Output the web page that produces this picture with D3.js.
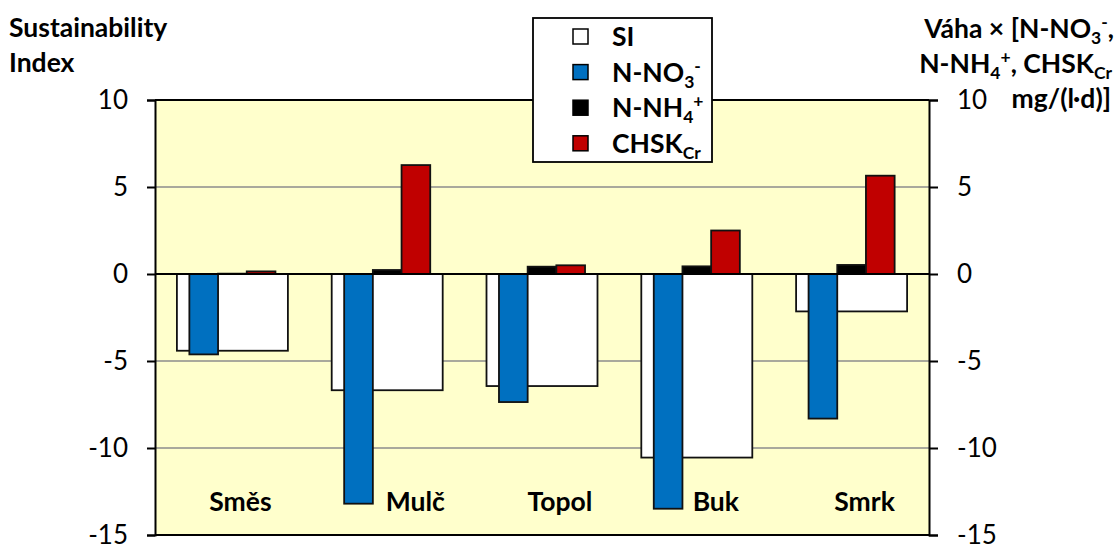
<!DOCTYPE html>
<html><head><meta charset="utf-8">
<script src="https://cdn.jsdelivr.net/npm/d3@7"></script>
<style>
body{margin:0;background:#fff}
svg{display:block}
text{font-family:Lato,"Open Sans",sans-serif;fill:#000}
</style>
</head><body>
<svg id="c" width="1115" height="545"></svg>
<script>
// ---- data ----
const categories = ["Směs","Mulč","Topol","Buk","Smrk"];
const siValues   = [-4.41,-6.68,-6.44,-10.55,-2.15];
const no3Values  = [-4.62,-13.2,-7.36,-13.49,-8.31];
const nh4Values  = [0.02,0.23,0.42,0.44,0.52];
const chskValues = [0.15,6.26,0.5,2.5,5.65];
const tickValues = [10,5,0,-5,-10,-15];
const seriesKeys = ["SI","NO3","NH4","CHSK"];

// ---- layout ----
const L = 155, R = 929, T = 100, B = 535;
const labelNudge = [8,28,18,19,13];
const colors = {SI:"#ffffff", NO3:"#0070c0", NH4:"#000000", CHSK:"#c00000"};
const FS = 26.5;
const TFS = 26;

const svg = d3.select("#c");
const x = d3.scaleBand().domain(categories).range([L,R]).padding(0);
const y = d3.scaleLinear().domain([-15,10]).range([B,T]);
const y2 = d3.scaleLinear().domain([-15,10]).range([B,T]);

// plot background
svg.append("rect").attr("x",L).attr("y",T).attr("width",R-L).attr("height",B-T).attr("fill","#ffffcc");

// gridlines
svg.append("g").selectAll("line").data(tickValues.filter(v=>v!==10&&v!==-15&&v!==0)).join("line")
  .attr("x1",L).attr("x2",R).attr("y1",d=>y(d)).attr("y2",d=>y(d))
  .attr("stroke","#8c8c8c").attr("stroke-width",1.5);

function barY(v){return y(Math.max(0,v));}
function barH(v){return Math.abs(y(v)-y(0));}

// SI bars (primary axis)
const siW = x.bandwidth()*0.717;
svg.append("g").selectAll("rect").data(categories).join("rect")
  .attr("x",(d)=>x(d)+x.bandwidth()/2-siW/2)
  .attr("y",(d,i)=>barY(siValues[i]))
  .attr("width",siW)
  .attr("height",(d,i)=>barH(siValues[i]))
  .attr("fill",colors.SI).attr("stroke","#111").attr("stroke-width",1.8);

// secondary bars
const secW = x.bandwidth()*0.556;
const sub = d3.scaleBand().domain(["NO3","NH4","CHSK"]).range([-secW/2,secW/2]).padding(0);
const secData = {NO3:no3Values, NH4:nh4Values, CHSK:chskValues};
["NO3","NH4","CHSK"].forEach(k=>{
  svg.append("g").selectAll("rect").data(categories).join("rect")
    .attr("x",d=>x(d)+x.bandwidth()/2+sub(k))
    .attr("y",(d,i)=>Math.min(y2(secData[k][i]),y2(0)))
    .attr("width",sub.bandwidth())
    .attr("height",(d,i)=>Math.abs(y2(secData[k][i])-y2(0)))
    .attr("fill",colors[k]).attr("stroke","#111").attr("stroke-width",1.8);
});

// zero line, top and bottom lines
[0,10,-15].forEach(v=>{
  svg.append("line").attr("x1",L).attr("x2",R).attr("y1",y(v)).attr("y2",y(v))
    .attr("stroke","#000").attr("stroke-width",2);
});

// axes
const fmt = d=>String(d);
const axL = svg.append("g").attr("transform",`translate(${L},0)`)
  .call(d3.axisLeft(y).tickValues(tickValues).tickSize(8).tickPadding(19).tickFormat(fmt));
const axR = svg.append("g").attr("transform",`translate(${R},0)`)
  .call(d3.axisRight(y2).tickValues(tickValues).tickSize(9).tickPadding(19).tickFormat(fmt));
[axL,axR].forEach(a=>{
  a.select(".domain").attr("stroke","#000").attr("stroke-width",2);
  a.selectAll(".tick line").attr("stroke","#000").attr("stroke-width",2);
  a.selectAll(".tick text").attr("font-size",TFS).attr("font-family","Lato").attr("fill","#000");
});

// category labels
svg.append("g").selectAll("text").data(categories).join("text")
  .attr("x",(d,i)=>x(d)+x.bandwidth()/2+labelNudge[i])
  .attr("y",511).attr("text-anchor","middle")
  .attr("font-size",FS).attr("font-weight","bold").text(d=>d);

// rich text helper
function rich(t, parts, fs){
  let shift = 0;
  parts.forEach(([s,kind])=>{
    let target = kind==="sub"?6:kind==="sup"?-10:0;
    const ts = t.append("tspan").text(s).attr("dy",target-shift);
    if(kind!=="n") ts.attr("font-size",fs*0.66);
    shift = target;
  });
}

// legend
const lg = svg.append("g");
lg.append("rect").attr("x",533).attr("y",18).attr("width",179).attr("height",144)
  .attr("fill","#fff").attr("stroke","#000").attr("stroke-width",1.8);
const legParts = {
  SI:[["SI","n"]],
  NO3:[["N-NO","n"],["3","sub"],["-","sup"]],
  NH4:[["N-NH","n"],["4","sub"],["+","sup"]],
  CHSK:[["CHSK","n"],["Cr","sub"]]
};
seriesKeys.forEach((k,i)=>{
  const cy = 37 + i*35.6;
  lg.append("rect").attr("x",573).attr("y",cy-8).attr("width",15).attr("height",15)
    .attr("fill",colors[k]).attr("stroke","#000").attr("stroke-width",1.5);
  const t = lg.append("text").attr("x",612).attr("y",cy+9).attr("font-size",FS).attr("font-weight","bold");
  rich(t, legParts[k], FS);
});

// axis titles
svg.append("text").attr("x",9).attr("y",37).attr("font-size",FS).attr("font-weight","bold").text("Sustainability");
svg.append("text").attr("x",9).attr("y",72).attr("font-size",FS).attr("font-weight","bold").text("Index");

const rt1 = svg.append("text").attr("x",1114).attr("y",38).attr("text-anchor","end").attr("font-size",FS).attr("font-weight","bold");
rich(rt1, [["Váha × [N-NO","n"],["3","sub"],["-","sup"],[",","n"]], FS);
const rt2 = svg.append("text").attr("x",1112).attr("y",73).attr("text-anchor","end").attr("font-size",FS).attr("font-weight","bold");
rich(rt2, [["N-NH","n"],["4","sub"],["+","sup"],[", CHSK","n"],["Cr","sub"]], FS);
svg.append("text").attr("x",1111).attr("y",108).attr("text-anchor","end").attr("font-size",FS).attr("font-weight","bold").text("mg/(l·d)]");
</script>
</body></html>
